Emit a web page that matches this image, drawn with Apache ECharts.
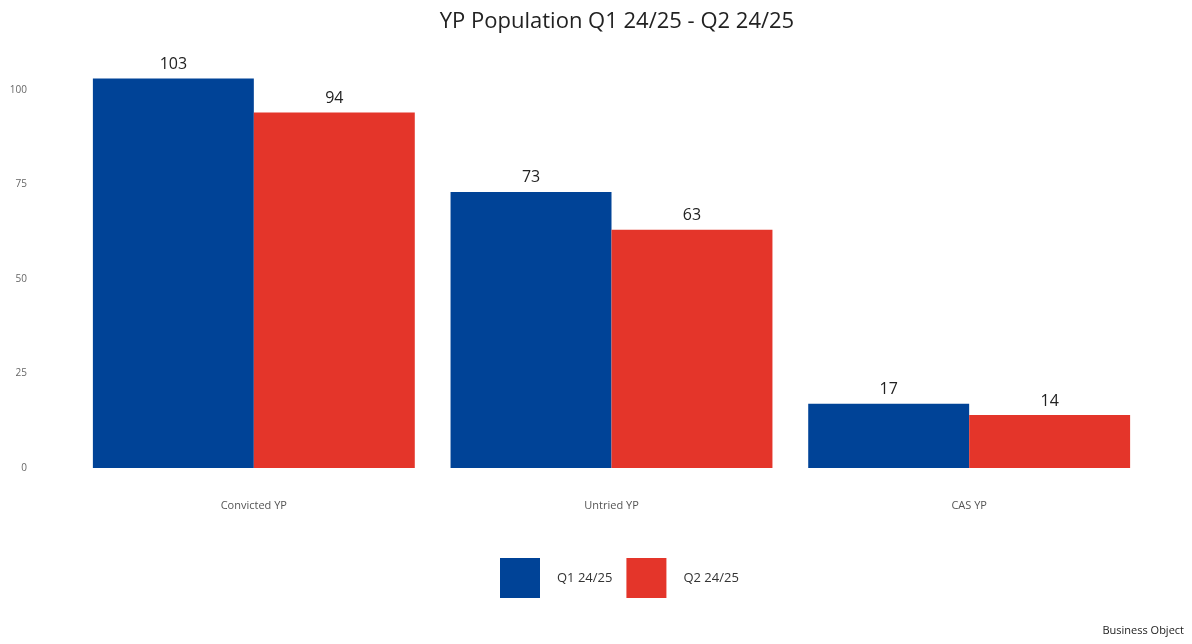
<!DOCTYPE html>
<html>
<head>
<meta charset="utf-8">
<script src="https://cdn.jsdelivr.net/npm/echarts@6/dist/echarts.min.js"></script>
<style>
  html, body { margin: 0; padding: 0; background: #fff; }
  #chart { width: 1192px; height: 644px; }
</style>
</head>
<body>
<div id="chart"></div>
<script>
// data
const categories = ['Convicted YP', 'Untried YP', 'CAS YP'];
const seriesNames = ['Q1 24/25', 'Q2 24/25'];
const q1Values = [103, 73, 17];
const q2Values = [94, 63, 14];
const colors = ['#004397', '#E4352A'];

const font = '"Open Sans", "Noto Sans", sans-serif';

const chart = echarts.init(document.getElementById('chart'));

chart.setOption({
  backgroundColor: '#fff',
  textStyle: { fontFamily: font },
  title: {
    text: 'YP Population Q1 24/25 - Q2 24/25',
    left: 612,
    textAlign: 'center',
    top: 6,
    textStyle: { fontFamily: font, fontSize: 22, fontWeight: 'normal', color: '#222' }
  },
  legend: {
    top: 553,
    left: 495,
    itemWidth: 40,
    itemHeight: 40,
    itemGap: 14,
    icon: 'rect',
    textStyle: { fontFamily: font, fontSize: 13, color: '#333', padding: [0, 0, 0, 12] },
    data: seriesNames
  },
  grid: {
    left: 75,
    right: 44,
    top: 52,
    bottom: 176,
    containLabel: false
  },
  xAxis: {
    type: 'category',
    data: categories,
    axisLine: { show: false },
    axisTick: { show: false },
    axisLabel: { margin: 32, fontSize: 11, color: '#555', fontFamily: font }
  },
  yAxis: {
    type: 'value',
    min: 0,
    max: 110,
    interval: 25,
    splitLine: { show: false },
    axisLine: { show: false },
    axisTick: { show: false },
    axisLabel: {
      margin: 48,
      fontSize: 10,
      color: '#666',
      fontFamily: font,
      showMaxLabel: false
    }
  },
  series: [
    {
      name: seriesNames[0],
      type: 'bar',
      data: q1Values,
      barGap: '0%',
      barCategoryGap: '10%',
      itemStyle: { color: colors[0] },
      label: { show: true, position: 'top', distance: 6, fontSize: 16, color: '#222', fontFamily: font }
    },
    {
      name: seriesNames[1],
      type: 'bar',
      data: q2Values,
      itemStyle: { color: colors[1] },
      label: { show: true, position: 'top', distance: 6, fontSize: 16, color: '#222', fontFamily: font }
    }
  ],
  graphic: [{
    type: 'text',
    right: 8,
    top: 625,
    style: { text: 'Business Object', fontSize: 11, fill: '#222', fontFamily: font }
  }]
});
</script>
</body>
</html>
